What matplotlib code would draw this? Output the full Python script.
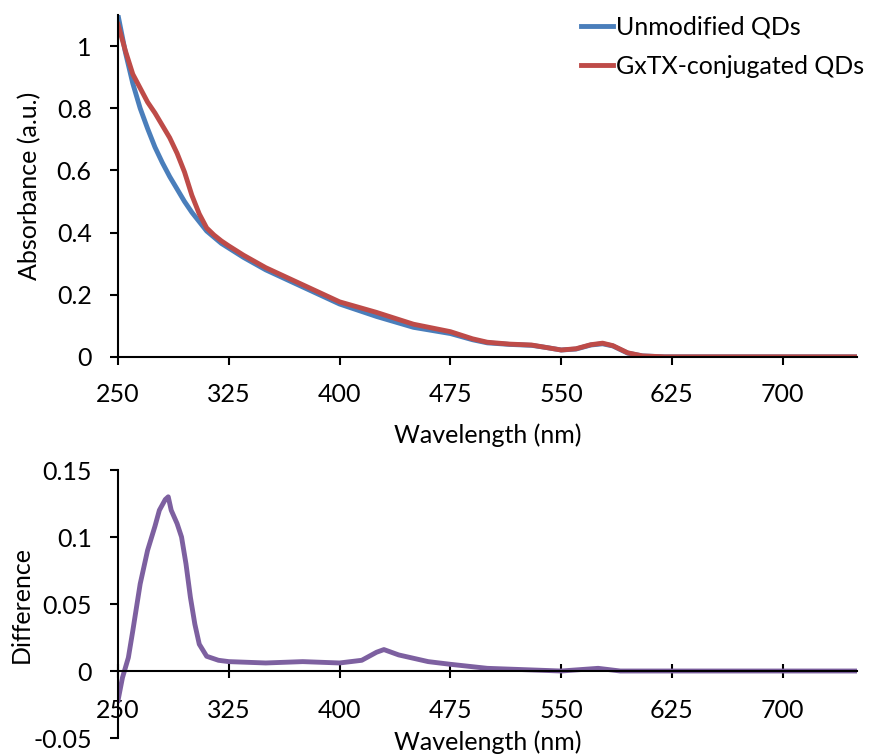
import matplotlib
matplotlib.use('Agg')
import matplotlib.pyplot as plt

plt.rcParams['font.family'] = ['Lato', 'DejaVu Sans']

# Absorbance spectra
wl_abs = [250, 255, 260, 265, 270, 275, 280, 285, 290, 295, 300, 305, 310, 315, 320, 325,
          335, 350, 375, 400, 425, 450, 475, 490, 500, 515, 530, 540, 550, 560, 570, 578,
          585, 595, 605, 620, 650, 700, 750]
unmodified = [1.10, 0.98, 0.88, 0.80, 0.735, 0.675, 0.625, 0.58, 0.54, 0.50, 0.465, 0.435,
              0.405, 0.385, 0.365, 0.35, 0.32, 0.28, 0.225, 0.17, 0.13, 0.095, 0.075, 0.055,
              0.045, 0.04, 0.037, 0.03, 0.022, 0.025, 0.038, 0.042, 0.035, 0.012, 0.003,
              0.0, 0.0, 0.0, 0.0]
conjugated = [1.07, 0.985, 0.91, 0.865, 0.82, 0.785, 0.745, 0.705, 0.655, 0.595, 0.52, 0.46,
              0.415, 0.392, 0.373, 0.357, 0.327, 0.287, 0.232, 0.177, 0.143, 0.105, 0.081,
              0.058, 0.047, 0.041, 0.038, 0.030, 0.022, 0.026, 0.039, 0.044, 0.036, 0.013,
              0.003, 0.0, 0.0, 0.0, 0.0]

# Difference spectrum
wl_diff = [250, 253, 257, 260, 265, 270, 275, 278, 282, 284, 286, 290, 293, 296, 299, 302,
           305, 310, 318, 325, 350, 375, 400, 415, 425, 430, 440, 460, 475, 500, 525, 550,
           575, 590, 750]
difference = [-0.022, -0.005, 0.01, 0.03, 0.065, 0.09, 0.108, 0.12, 0.128, 0.13, 0.12, 0.11,
              0.1, 0.08, 0.055, 0.035, 0.02, 0.011, 0.008, 0.007, 0.006, 0.007, 0.006, 0.008,
              0.014, 0.016, 0.012, 0.007, 0.005, 0.002, 0.001, 0.0, 0.002, 0.0, 0.0]

x_ticks = [250, 325, 400, 475, 550, 625, 700]
abs_ticks = [0, 0.2, 0.4, 0.6, 0.8, 1]
abs_labels = ['0', '0.2', '0.4', '0.6', '0.8', '1']
diff_ticks = [-0.05, 0, 0.05, 0.1, 0.15]
diff_labels = ['-0.05', '0', '0.05', '0.1', '0.15']

blue = '#4A7EBB'
red = '#BE4B48'
purple = '#7D60A0'
fs = 18

fig = plt.figure(figsize=(8.71, 7.56), dpi=100)
ax1 = fig.add_axes([0.1355, 0.528, 0.848, 0.452])
ax2 = fig.add_axes([0.1355, 0.0238, 0.848, 0.3545])

# top panel
ax1.plot(wl_abs, unmodified, color=blue, lw=3.5, label='Unmodified QDs')
ax1.plot(wl_abs, conjugated, color=red, lw=3.5, label='GxTX-conjugated QDs')
ax1.set_xlim(250, 750)
ax1.set_ylim(0, 1.1)
ax1.set_xticks(x_ticks)
ax1.set_yticks(abs_ticks)
ax1.set_yticklabels(abs_labels)
ax1.set_xlabel('Wavelength (nm)', fontsize=fs)
ax1.set_ylabel('Absorbance (a.u.)', fontsize=fs)
ax1.xaxis.set_label_coords(0.5, -0.195)
ax1.yaxis.set_label_coords(-0.104, 0.5)
for s in ['top', 'right']:
    ax1.spines[s].set_visible(False)
ax1.tick_params(axis='x', labelsize=fs, width=1.5, length=6, pad=13)
ax1.tick_params(axis='y', labelsize=fs, width=1.5, length=6, pad=13)
ax1.spines['left'].set_linewidth(1.5)
ax1.spines['bottom'].set_linewidth(1.5)
ax1.legend(loc='upper right', bbox_to_anchor=(1.04, 1.065), frameon=False, fontsize=fs,
           handlelength=1.3, handletextpad=0.1, labelspacing=0.65)

# bottom panel
ax2.plot(wl_diff, difference, color=purple, lw=3.5)
ax2.set_xlim(250, 750)
ax2.set_ylim(-0.05, 0.15)
ax2.set_xticks(x_ticks)
ax2.set_yticks(diff_ticks)
ax2.set_yticklabels(diff_labels)
ax2.spines['bottom'].set_position(('data', 0))
for s in ['top', 'right']:
    ax2.spines[s].set_visible(False)
ax2.spines['left'].set_linewidth(1.5)
ax2.spines['bottom'].set_linewidth(1.5)
ax2.tick_params(axis='y', labelsize=fs, width=1.5, length=6, pad=13)
ax2.tick_params(axis='x', labelsize=fs, width=1.5, length=10, direction='inout', pad=15)
ax2.set_xlabel('Wavelength (nm)', fontsize=fs)
ax2.set_ylabel('Difference', fontsize=fs)
ax2.xaxis.set_label_coords(0.5, 0.03)
ax2.yaxis.set_label_coords(-0.116, 0.5)

fig.savefig('out.png', dpi=100)
